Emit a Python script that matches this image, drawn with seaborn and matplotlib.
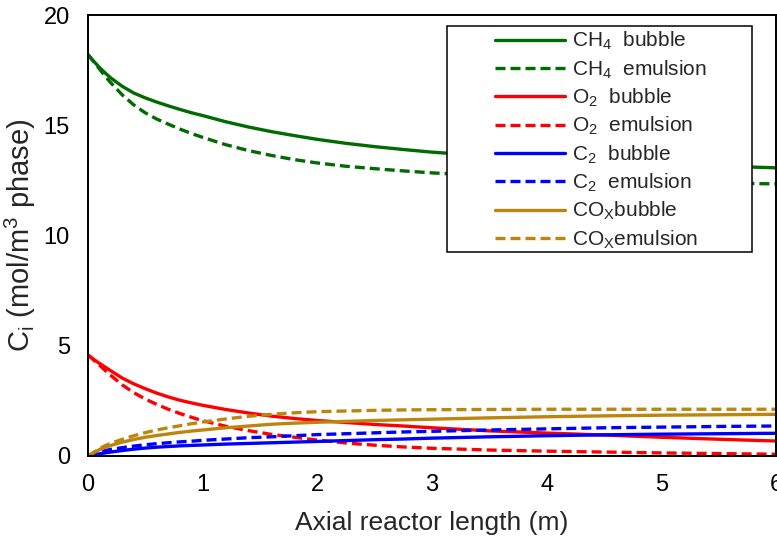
import matplotlib
matplotlib.use("Agg")
import matplotlib.pyplot as plt
from matplotlib.patches import Rectangle
import numpy as np
import pandas as pd
import seaborn as sns

# Axial positions along the reactor (m)
length_m = [0, 0.05, 0.1, 0.15, 0.2, 0.3, 0.4, 0.5, 0.6, 0.7, 0.8, 0.9, 1.0,
            1.2, 1.4, 1.6, 1.8, 2.0, 2.25, 2.5, 2.75, 3.0, 3.5, 4.0, 4.5,
            5.0, 5.5, 6.0]

# Concentrations (mol/m3 phase)
ch4_bubble = [18.2, 17.9, 17.62, 17.37, 17.14, 16.76, 16.46, 16.24, 16.05,
              15.88, 15.72, 15.57, 15.44, 15.16, 14.92, 14.71, 14.53, 14.36,
              14.18, 14.03, 13.9, 13.78, 13.6, 13.45, 13.33, 13.23, 13.15,
              13.07]
ch4_emulsion = [18.2, 17.88, 17.55, 17.22, 16.92, 16.37, 15.92, 15.56, 15.28,
                15.05, 14.83, 14.63, 14.45, 14.12, 13.85, 13.63, 13.44, 13.29,
                13.14, 13.03, 12.93, 12.84, 12.7, 12.6, 12.51, 12.44, 12.38,
                12.34]
o2_bubble = [4.58, 4.38, 4.2, 4.03, 3.86, 3.53, 3.27, 3.05, 2.85, 2.68, 2.53,
             2.41, 2.3, 2.11, 1.95, 1.81, 1.7, 1.61, 1.52, 1.43, 1.36, 1.28,
             1.14, 1.04, 0.95, 0.85, 0.76, 0.68]
o2_emulsion = [4.58, 4.35, 4.12, 3.88, 3.65, 3.22, 2.87, 2.58, 2.34, 2.12,
               1.93, 1.76, 1.6, 1.35, 1.15, 0.98, 0.85, 0.72, 0.59, 0.49, 0.41,
               0.35, 0.27, 0.22, 0.18, 0.14, 0.11, 0.08]
c2_bubble = [0, 0.05, 0.1, 0.14, 0.18, 0.25, 0.31, 0.36, 0.4, 0.43, 0.46,
             0.48, 0.5, 0.54, 0.57, 0.6, 0.63, 0.66, 0.7, 0.74, 0.77, 0.81,
             0.87, 0.92, 0.96, 0.99, 1.01, 1.03]
c2_emulsion = [0, 0.09, 0.18, 0.25, 0.3, 0.38, 0.45, 0.51, 0.56, 0.6, 0.64,
               0.67, 0.71, 0.77, 0.83, 0.87, 0.92, 0.97, 1.01, 1.05, 1.09,
               1.12, 1.18, 1.23, 1.28, 1.31, 1.34, 1.36]
cox_bubble = [0, 0.15, 0.29, 0.39, 0.48, 0.63, 0.75, 0.85, 0.93, 1.0, 1.07,
              1.13, 1.18, 1.28, 1.36, 1.44, 1.49, 1.53, 1.57, 1.61, 1.64, 1.67,
              1.73, 1.78, 1.82, 1.85, 1.87, 1.89]
cox_emulsion = [0, 0.17, 0.33, 0.47, 0.58, 0.76, 0.92, 1.06, 1.18, 1.28, 1.37,
                1.46, 1.54, 1.68, 1.8, 1.89, 1.96, 2.01, 2.04, 2.07, 2.09, 2.1,
                2.11, 2.12, 2.12, 2.12, 2.12, 2.12]

series_labels = [r"CH$_\mathregular{4}$  bubble",
                 r"CH$_\mathregular{4}$  emulsion",
                 r"O$_\mathregular{2}$  bubble",
                 r"O$_\mathregular{2}$  emulsion",
                 r"C$_\mathregular{2}$  bubble",
                 r"C$_\mathregular{2}$  emulsion",
                 r"CO$_\mathregular{X}$bubble",
                 r"CO$_\mathregular{X}$emulsion"]
series_values = [ch4_bubble, ch4_emulsion, o2_bubble, o2_emulsion,
                 c2_bubble, c2_emulsion, cox_bubble, cox_emulsion]
series_colors = ["#006B00", "#006B00", "#FF0000", "#FF0000",
                 "#0000FF", "#0000FF", "#BC860E", "#BC860E"]
series_dashed = [False, True, False, True, False, True, False, True]

x_ticks = [0, 1, 2, 3, 4, 5, 6]
y_ticks = [0, 5, 10, 15, 20]

sns.set_style("white")
plt.rcParams["font.family"] = ["Liberation Sans", "DejaVu Sans"]
plt.rcParams["mathtext.fontset"] = "custom"
plt.rcParams["mathtext.rm"] = "Liberation Sans"
plt.rcParams["mathtext.it"] = "Liberation Sans:italic"
plt.rcParams["mathtext.bf"] = "Liberation Sans:bold"

fig = plt.figure(figsize=(7.77, 5.39), dpi=100)
ax = fig.add_axes([88 / 777, 1 - 456 / 539, 688 / 777, 441 / 539])

handles = []
for label, vals, col, dashed in zip(series_labels, series_values,
                                    series_colors, series_dashed):
    df = pd.DataFrame({"x": length_m, "c": vals})
    ls = (0, (3.0, 1.5)) if dashed else "-"
    sns.lineplot(data=df, x="x", y="c", ax=ax, color=col, linewidth=2.4,
                 linestyle=ls, sort=False, label=label, legend=False)
    handles.append(ax.get_lines()[-1])

ax.set_xlim(0, 6)
ax.set_ylim(0, 20)
ax.set_xticks(x_ticks)
ax.set_yticks(y_ticks)
ax.tick_params(direction="in", length=5, width=1.2, labelsize=17,
               colors="black")
ax.tick_params(axis="x", pad=13)
ax.tick_params(axis="y", pad=13)
for sp in ax.spines.values():
    sp.set_visible(True)
    sp.set_color("black")
    sp.set_linewidth(1.4)

ax.set_xlabel("Axial reactor length (m)", fontsize=19, labelpad=11)
ax.set_ylabel(r"C$_\mathregular{i}$ (mol/m$^\mathregular{3}$ phase)",
              fontsize=21, labelpad=4)

leg = ax.legend(handles=handles, labels=series_labels, loc="upper left",
                bbox_to_anchor=((495 - 88) / 688, (456 - 30) / 441),
                frameon=False, fontsize=15, handlelength=3.37,
                handletextpad=0.32, labelspacing=0.29, borderpad=0,
                borderaxespad=0)
ax.add_patch(Rectangle(((447 - 88) / 688, (456 - 252) / 441),
                       (752 - 447) / 688, (252 - 26) / 441,
                       transform=ax.transAxes, fill=True, facecolor="white",
                       edgecolor="black", linewidth=1.1, zorder=4))
leg.set_zorder(5)

fig.savefig("out.png", dpi=100)
